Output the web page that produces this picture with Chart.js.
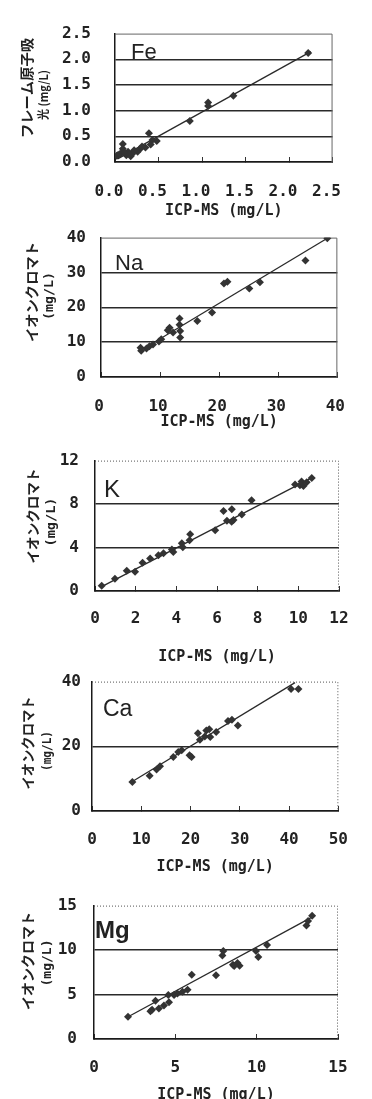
<!DOCTYPE html>
<html>
<head>
<meta charset="utf-8">
<script src="https://cdn.jsdelivr.net/npm/chart.js@4/dist/chart.umd.min.js"></script>
<style>
  html, body { margin: 0; padding: 0; background: #fff; width: 372px; height: 1099px; overflow: hidden; }
  body { position: relative; }
  canvas { position: absolute; left: 0; }
</style>
</head>
<body>
<canvas id="fe"></canvas>
<canvas id="na"></canvas>
<canvas id="k"></canvas>
<canvas id="ca"></canvas>
<canvas id="mg"></canvas>
<script>
// --- values (x = ICP-MS, y = other method, mg/L) ---
const feX = [2.22, 1.36, 1.07, 1.07, 0.86, 0.39, 0.48, 0.43, 0.41, 0.35, 0.29, 0.26, 0.22, 0.20, 0.15, 0.13, 0.09, 0.09, 0.07, 0.03, 0.02, 0.18, 0.31, 0.05, 0.11, 0.17];
const feY = [2.12, 1.29, 1.16, 1.09, 0.80, 0.56, 0.41, 0.43, 0.34, 0.28, 0.26, 0.20, 0.23, 0.16, 0.20, 0.13, 0.35, 0.26, 0.17, 0.13, 0.12, 0.11, 0.30, 0.15, 0.18, 0.15];
const feTrendX = [0.03, 2.25];
const feTrendY = [0.06, 2.15];

const naX = [38.3, 34.6, 26.9, 25.1, 21.4, 20.8, 18.8, 16.3, 13.3, 13.3, 13.4, 13.4, 11.6, 12.2, 11.3, 10.2, 9.8, 8.8, 8.2, 7.7, 6.7, 6.8];
const naY = [39.8, 33.4, 27.2, 25.4, 27.3, 26.8, 18.5, 16.1, 16.8, 15.0, 13.2, 11.3, 14.1, 12.8, 13.4, 10.8, 10.2, 9.3, 8.8, 8.2, 8.4, 7.5];
const naTrendX = [7.0, 38.3];
const naTrendY = [7.9, 39.8];

const kX = [0.33, 0.98, 1.56, 1.97, 2.34, 2.71, 3.12, 3.37, 3.78, 3.85, 4.27, 4.32, 4.65, 4.68, 5.91, 6.32, 6.73, 6.49, 6.81, 6.72, 7.22, 7.70, 9.84, 10.08, 10.16, 10.25, 10.41, 10.66];
const kY = [0.49, 1.12, 1.86, 1.78, 2.60, 3.00, 3.28, 3.47, 3.83, 3.59, 4.39, 4.03, 4.67, 5.22, 5.58, 7.36, 7.53, 6.47, 6.53, 6.38, 7.03, 8.36, 9.81, 9.73, 10.08, 9.67, 10.00, 10.41];
const kTrendX = [0.33, 10.7];
const kTrendY = [0.40, 10.45];

const caX = [8.2, 11.7, 13.1, 13.8, 16.5, 17.5, 18.2, 19.8, 20.2, 21.5, 23.2, 22.9, 21.9, 25.2, 27.6, 28.4, 29.6, 40.4, 41.9, 23.8, 24.0];
const caY = [9.0, 10.9, 12.8, 13.8, 16.7, 18.2, 18.8, 17.2, 16.7, 24.0, 24.9, 23.0, 22.0, 24.4, 27.8, 28.2, 26.4, 37.7, 37.7, 25.3, 22.9];
const caTrendX = [8.2, 41.2];
const caTrendY = [9.1, 39.7];

const mgX = [2.09, 3.57, 3.78, 3.47, 4.30, 4.61, 4.57, 5.13, 5.44, 5.75, 6.01, 7.50, 8.54, 8.95, 3.99, 4.92, 7.95, 7.89, 8.82, 8.62, 9.96, 10.10, 10.64, 13.06, 13.16, 13.41];
const mgY = [2.50, 3.28, 4.29, 3.11, 3.78, 4.12, 4.96, 5.13, 5.30, 5.54, 7.22, 7.16, 8.34, 8.24, 3.44, 4.96, 9.90, 9.39, 8.55, 8.21, 9.90, 9.22, 10.57, 12.77, 13.28, 13.85];
const mgTrendX = [2.1, 13.4];
const mgTrendY = [2.5, 13.7];

// --- tick values and labels ---
const feTicks = [0, 0.5, 1, 1.5, 2, 2.5];
const feTickLabels = ['0.0', '0.5', '1.0', '1.5', '2.0', '2.5'];
const naTicks = [0, 10, 20, 30, 40];
const naTickLabels = ['0', '10', '20', '30', '40'];
const kXTicks = [0, 2, 4, 6, 8, 10, 12];
const kXTickLabels = ['0', '2', '4', '6', '8', '10', '12'];
const kYTicks = [0, 4, 8, 12];
const kYTickLabels = ['0', '4', '8', '12'];
const caXTicks = [0, 10, 20, 30, 40, 50];
const caXTickLabels = ['0', '10', '20', '30', '40', '50'];
const caYTicks = [0, 20, 40];
const caYTickLabels = ['0', '20', '40'];
const mgTicks = [0, 5, 10, 15];
const mgTickLabels = ['0', '5', '10', '15'];

const xTitle = 'ICP-MS (mg/L)';
const ionTitle = ['イオンクロマト', '(mg/L)'];
const feTitle = ['フレーム原子吸', '光 (mg/L)'];

const ink = '#222';
const tickFont = { family: "'DejaVu Sans Mono', monospace", size: 16, weight: 'bold' };
const cjk = "'Noto Sans CJK JP', sans-serif";
const mono = "'DejaVu Sans Mono', monospace";

const pts = (xs, ys) => xs.map((x, i) => ({ x, y: ys[i] }));

// frame on top/right, element symbol, rotated y title
const panelDeco = {
  id: 'panelDeco',
  beforeDatasetsDraw(chart, args, o) {
    const { ctx, chartArea: a } = chart;
    ctx.save();
    ctx.strokeStyle = o.frameColor;
    ctx.lineWidth = 1;
    ctx.setLineDash(o.dotted ? [1, 2] : []);
    ctx.beginPath();
    ctx.moveTo(a.left, a.top + 0.5);
    ctx.lineTo(a.right - 0.5, a.top + 0.5);
    ctx.lineTo(a.right - 0.5, a.bottom);
    ctx.stroke();
    ctx.restore();
  },
  afterDraw(chart, args, o) {
    const { ctx, chartArea: a } = chart;
    ctx.save();
    ctx.fillStyle = ink;
    ctx.font = o.symbolFont;
    ctx.textBaseline = 'alphabetic';
    ctx.textAlign = 'left';
    ctx.fillText(o.symbol, a.left + o.symbolDx, a.top + o.symbolDy);
    o.yLines.forEach((ln, i) => {
      ctx.save();
      ctx.translate(o.yLineX[i], o.yLineY[i] - chart.canvas.offsetTop);
      ctx.rotate(-Math.PI / 2);
      ctx.font = o.yLineFont[i];
      const w = ctx.measureText(ln).width;
      ctx.scale(o.yLineLen[i] / w, 1);
      ctx.textAlign = 'center';
      ctx.textBaseline = 'middle';
      ctx.fillText(ln, 0, 0);
      ctx.restore();
    });
    ctx.restore();
  }
};

function makePanel(id, p) {
  const padTop = 12;
  const plotH = p.B - p.T;
  const axisH = p.titleOff + 9;
  const canvas = document.getElementById(id);
  canvas.width = 372;
  canvas.height = padTop + plotH + axisH;
  canvas.style.top = (p.T - padTop) + 'px';

  const xMax = p.xTicks[p.xTicks.length - 1];
  const yMax = p.yTicks[p.yTicks.length - 1];

  return new Chart(canvas, {
    type: 'scatter',
    data: {
      datasets: [
        {
          data: pts(p.x, p.y),
          pointStyle: 'rectRot',
          pointRadius: 4,
          backgroundColor: '#333',
          borderWidth: 0
        },
        {
          data: pts(p.tx, p.ty),
          showLine: true,
          pointRadius: 0,
          borderColor: '#2a2a2a',
          borderWidth: 1.3
        }
      ]
    },
    options: {
      responsive: false,
      animation: false,
      events: [],
      layout: { padding: { left: 0, right: 372 - p.R, top: padTop, bottom: 0 } },
      plugins: {
        legend: { display: false },
        tooltip: { enabled: false },
        panelDeco: {
          symbol: p.symbol, symbolFont: p.symbolFont, symbolDx: p.symDx, symbolDy: p.symDy,
          dotted: p.dotted, frameColor: p.dotted ? '#555' : '#666',
          yLines: p.yLines, yLineX: p.yLineX, yLineY: p.yLineY, yLineLen: p.yLineLen, yLineFont: p.yLineFont
        }
      },
      scales: {
        x: {
          type: 'linear',
          min: 0,
          max: xMax,
          afterBuildTicks: s => { s.ticks = p.xTicks.map(v => ({ value: v })); },
          afterFit: s => { s.height = axisH; },
          grid: { drawOnChartArea: false, tickLength: -5, color: '#333', lineWidth: 1 },
          border: { color: '#1a1a1a', width: 1.5 },
          ticks: {
            padding: p.xPad,
            labelOffset: p.xShift,
            maxRotation: 0,
            autoSkip: false,
            color: ink,
            font: tickFont,
            callback: (v, i) => p.xLabels[i]
          },
          title: {
            display: true,
            text: xTitle,
            color: ink,
            padding: 0,
            font: { family: mono, size: 15, weight: 'bold' }
          }
        },
        y: {
          type: 'linear',
          min: 0,
          max: yMax,
          afterBuildTicks: s => { s.ticks = p.yTicks.map(v => ({ value: v })); },
          afterFit: s => { s.width = p.L; },
          grid: {
            drawTicks: false,
            lineWidth: 1.5,
            color: c => (c.tick && c.tick.value === yMax) ? 'rgba(0,0,0,0)' : '#2a2a2a'
          },
          border: { color: '#1a1a1a', width: 1.5 },
          ticks: {
            padding: p.yPad,
            autoSkip: false,
            color: ink,
            font: tickFont,
            callback: (v, i) => p.yLabels[i]
          }
        }
      }
    },
    plugins: [panelDeco]
  });
}

makePanel('fe', {
  x: feX, y: feY, tx: feTrendX, ty: feTrendY,
  xTicks: feTicks, xLabels: feTickLabels, yTicks: feTicks, yLabels: feTickLabels,
  L: 115, R: 338, T: 12, B: 162, yPad: 24, xPad: 25, xShift: -6, titleOff: 49,
  symbol: 'Fe', symbolFont: "22px 'Liberation Sans', Arial, sans-serif", symDx: 16, symDy: 25,
  dotted: false,
  yLines: feTitle, yLineX: [27, 43], yLineY: [88, 95], yLineLen: [100, 50],
  yLineFont: ["bold 14px " + cjk, "bold 12px " + cjk]
});

makePanel('na', {
  x: naX, y: naY, tx: naTrendX, ty: naTrendY,
  xTicks: naTicks, xLabels: naTickLabels, yTicks: naTicks, yLabels: naTickLabels,
  L: 101, R: 339, T: 225, B: 377, yPad: 15, xPad: 25, xShift: -2, titleOff: 45,
  symbol: 'Na', symbolFont: "22px 'Liberation Sans', Arial, sans-serif", symDx: 14, symDy: 32,
  dotted: false,
  yLines: ionTitle, yLineX: [32, 50], yLineY: [292, 296], yLineLen: [100, 48],
  yLineFont: ["bold 14px " + cjk, "bold 13px " + mono]
});

makePanel('k', {
  x: kX, y: kY, tx: kTrendX, ty: kTrendY,
  xTicks: kXTicks, xLabels: kXTickLabels, yTicks: kYTicks, yLabels: kYTickLabels,
  L: 95, R: 339, T: 447, B: 591, yPad: 16, xPad: 23, xShift: 0, titleOff: 66,
  symbol: 'K', symbolFont: "24px 'Liberation Sans', Arial, sans-serif", symDx: 9, symDy: 36,
  dotted: true,
  yLines: ionTitle, yLineX: [33, 52], yLineY: [516, 522], yLineLen: [95, 49],
  yLineFont: ["bold 14px " + cjk, "bold 13px " + mono]
});

makePanel('ca', {
  x: caX, y: caY, tx: caTrendX, ty: caTrendY,
  xTicks: caXTicks, xLabels: caXTickLabels, yTicks: caYTicks, yLabels: caYTickLabels,
  L: 92, R: 339, T: 673, B: 811, yPad: 11, xPad: 24, xShift: 0, titleOff: 56,
  symbol: 'Ca', symbolFont: "23px 'Liberation Sans', Arial, sans-serif", symDx: 11, symDy: 34,
  dotted: true,
  yLines: ionTitle, yLineX: [28, 48], yLineY: [743, 751], yLineLen: [93, 40],
  yLineFont: ["bold 14px " + cjk, "bold 12px " + mono]
});

makePanel('mg', {
  x: mgX, y: mgY, tx: mgTrendX, ty: mgTrendY,
  xTicks: mgTicks, xLabels: mgTickLabels, yTicks: mgTicks, yLabels: mgTickLabels,
  L: 94, R: 338, T: 891, B: 1039, yPad: 17, xPad: 24, xShift: 0, titleOff: 56,
  symbol: 'Mg', symbolFont: "bold 24px 'Liberation Sans', Arial, sans-serif", symDx: 1, symDy: 32,
  dotted: true,
  yLines: ionTitle, yLineX: [28, 48], yLineY: [961, 963], yLineLen: [98, 47],
  yLineFont: ["bold 14px " + cjk, "bold 13px " + mono]
});
</script>
</body>
</html>
